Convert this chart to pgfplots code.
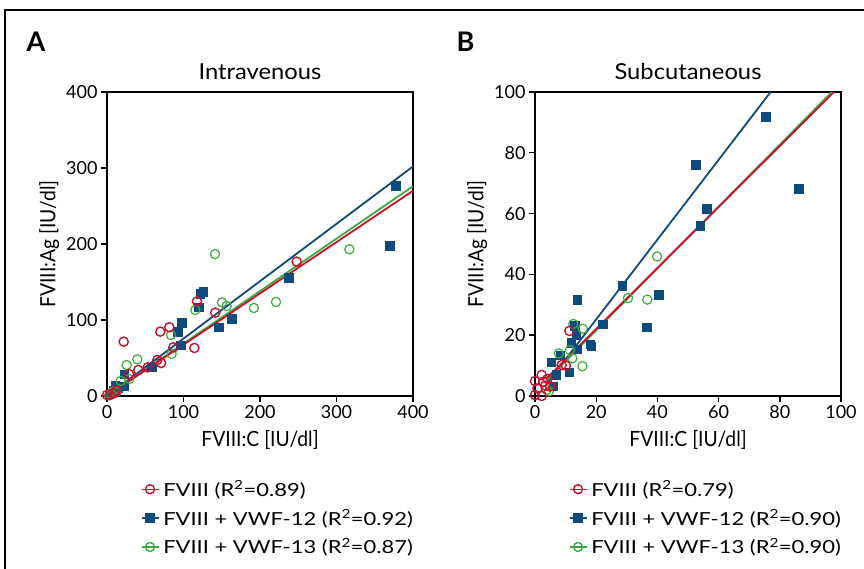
\documentclass[border=0pt]{standalone}
\usepackage{fontspec}
\setmainfont{Lato}
\newfontfamily\cond[FakeStretch=0.92]{Lato}
\newfontfamily\wide[FakeStretch=1.22]{Lato}
\newfontfamily\tit[FakeStretch=1.08]{Lato}
\usepackage{pgfplots}
\pgfplotsset{compat=1.18}
\definecolor{cred}{HTML}{C8102E}
\definecolor{cblue}{HTML}{0E4A7E}
\definecolor{cgreen}{HTML}{3DAA3D}
\definecolor{cgfill}{HTML}{CFE8CB}
\pgfplotsset{
 myax/.style={
  scale only axis, width=306pt, height=304pt,
  axis line style={line width=1.6pt},
  tick align=outside, xtick pos=left, ytick pos=left,
  major tick length=6pt, major tick style={line width=1.4pt, black},
  /pgf/number format/assume math mode=true,
  tick label style={font=\fontsize{18}{18}\selectfont},
  label style={font=\cond\fontsize{21}{21}\selectfont},
  xlabel style={yshift=-5pt},
  title style={font=\tit\fontsize{22}{22}\selectfont, yshift=3pt},
  legend style={draw=none, fill=none, font=\wide\fontsize{18}{18}\selectfont,
    at={(0.10,-0.265)}, anchor=north west, row sep=8pt, nodes={inner xsep=4pt}},
  legend cell align=left,
  clip=true,
 },
 redm/.style={only marks, mark=o, mark size=4.6pt, mark options={draw=cred, fill=white, line width=1.4pt}},
 bluem/.style={only marks, mark=square*, mark size=4.1pt, mark options={draw=cblue, fill=cblue}},
 greenm/.style={only marks, mark=o, mark size=4.6pt, mark options={draw=cgreen, fill=cgfill, line width=1.2pt}},
}
\begin{document}
\begin{tikzpicture}
\draw[line width=1.5pt] (5pt,-5pt) -- (5pt,559pt) -- (870pt,559pt);
\node[font=\bfseries\fontsize{27}{27}\selectfont, anchor=base west] at (23pt,517pt) {A};
\node[font=\bfseries\fontsize{27}{27}\selectfont, anchor=base west] at (453pt,517pt) {B};
\begin{axis}[myax, at={(107pt,173pt)}, anchor=south west,
  xmin=0, xmax=400, ymin=0, ymax=400,
  xtick={0,100,200,300,400}, ytick={0,100,200,300,400},
  title={Intravenous}, xlabel={FVIII:C [IU/dl]}, ylabel={FVIII:Ag [IU/dl]}]
\addlegendimage{cred, line width=1.4pt, mark=o, mark size=4.5pt, mark options={fill=white}}
\addlegendentry{FVIII (R\textsuperscript{2}=0.89)}
\addlegendimage{cblue, line width=1.4pt, mark=square*, mark size=4pt}
\addlegendentry{FVIII + VWF-12 (R\textsuperscript{2}=0.92)}
\addlegendimage{cgreen, line width=1.4pt, mark=o, mark size=4.5pt, mark options={fill=cgfill}}
\addlegendentry{FVIII + VWF-13 (R\textsuperscript{2}=0.87)}
\addplot[bluem, forget plot] coordinates {
(377.3,276.8) (369.5,197.8) (237.5,155.7) (125.9,137.3) (121.6,134.7) (119.8,117.1)
(163,101.8) (146,90.4) (97.6,96.5) (92.4,84.7) (96.3,67.1) (58.4,37.7) (22.7,28.9)
(22.2,13.2) (10.5,13.6) (5,4) (8,8) (14,10)};
\addplot[greenm, forget plot] coordinates {
(141.2,186.8) (316.8,193) (220.9,123.7) (192.1,115.8) (150.3,123.2) (156.4,118.4)
(115.5,113.2) (83.7,80.3) (84.5,55.3) (39.6,48.2) (25.7,40.8) (29.2,22.4) (17.9,19.7)
(12.6,5.7) (5,3) (8,6) (3,1)};
\addplot[redm, forget plot] coordinates {
(247.9,176.8) (117.6,124.6) (141.6,109.7) (81.5,90.4) (69.7,84.7) (21.8,71.5)
(114.2,63.2) (86.7,64) (65.8,47.4) (70.6,43.4) (53.2,37.7) (41,34.2) (28.8,28.9)
(12.6,7) (9.1,3.5) (3.9,1.3) (0,1.3) (4.8,-1.8) (1,-1)};
\addplot[cblue, line width=1.8pt, forget plot] coordinates {(0,0) (400,302)};
\addplot[cgreen, line width=1.8pt, forget plot] coordinates {(0,0) (400,276)};
\addplot[cred, line width=1.8pt, forget plot] coordinates {(0,0) (400,270)};
\end{axis}
\begin{axis}[myax, at={(535pt,173pt)}, anchor=south west,
  xmin=0, xmax=100, ymin=0, ymax=100,
  xtick={0,20,40,60,80,100}, ytick={0,20,40,60,80,100},
  title={Subcutaneous}, xlabel={FVIII:C [IU/dl]}, ylabel={FVIII:Ag [IU/dl]}]
\addlegendimage{cred, line width=1.4pt, mark=o, mark size=4.5pt, mark options={fill=white}}
\addlegendentry{FVIII (R\textsuperscript{2}=0.79)}
\addlegendimage{cblue, line width=1.4pt, mark=square*, mark size=4pt}
\addlegendentry{FVIII + VWF-12 (R\textsuperscript{2}=0.90)}
\addlegendimage{cgreen, line width=1.4pt, mark=o, mark size=4.5pt, mark options={fill=cgfill}}
\addlegendentry{FVIII + VWF-13 (R\textsuperscript{2}=0.90)}
\addplot[bluem, forget plot] coordinates {
(75.4,91.9) (52.5,76.1) (86.2,68.2) (56.1,61.6) (54.1,56) (28.6,36.3) (40.4,33.3)
(13.9,31.7) (22.1,23.5) (36.5,22.6) (13,23.1) (13.4,20.1) (11.7,17.5) (18,17.1)
(18.3,16.4) (13.8,15.4) (8.2,13.4) (5.4,11) (6.9,7) (11.3,7.7) (6,3.1)};
\addplot[greenm, forget plot] coordinates {
(39.9,45.9) (30.4,32.2) (36.7,31.7) (12.5,23.7) (15.6,22.1) (7.8,14) (11.4,15.1)
(12.2,12.4) (15.5,9.8) (3.8,2) (4.5,1.5)};
\addplot[redm, forget plot] coordinates {
(11.2,21.4) (8.7,10.2) (10.1,10) (2.2,6.9) (4.1,5.6) (0,4.9) (2.7,4.7) (3.3,3.4)
(4.9,3.1) (0.8,2.5) (0,0.3) (2.2,0)};
\addplot[cblue, line width=1.8pt, forget plot] coordinates {(4,4.2) (77,100)};
\addplot[cgreen, line width=1.8pt, forget plot] coordinates {(4,5.3) (97,100)};
\addplot[cred, line width=1.8pt, forget plot] coordinates {(3.8,5.8) (97.7,100)};
\end{axis}
\pgfresetboundingbox
\useasboundingbox (0pt,0pt) rectangle (864pt,569pt);
\end{tikzpicture}
\end{document}
